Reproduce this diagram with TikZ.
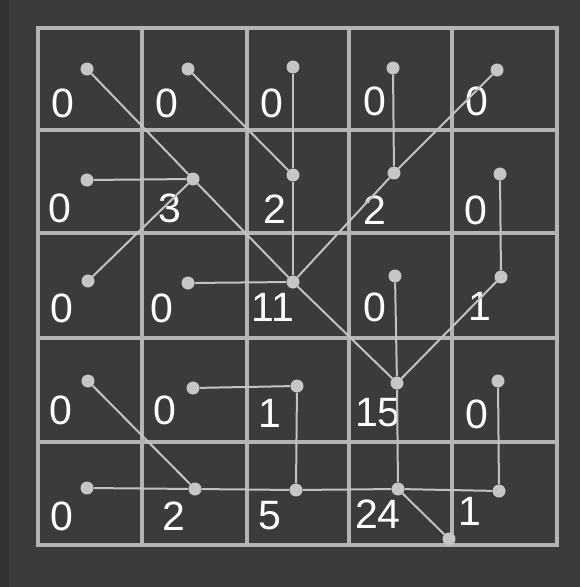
\documentclass[tikz,border=0pt]{standalone}
\usepackage{fontspec}
\setmainfont{Liberation Sans}
\definecolor{bg}{HTML}{3B3B3B}
\definecolor{bgdark}{HTML}{333333}
\definecolor{gridgray}{HTML}{B4B4B4}
\definecolor{flowgray}{HTML}{C2C2C2}
\definecolor{dotgray}{HTML}{C6C6C6}
\tikzset{
  gridline/.style={draw=gridgray, line width=3.5pt},
  celldot/.style={circle, fill=dotgray, inner sep=0pt, minimum size=13pt},
  flow/.style={draw=flowgray, line width=2pt},
  count/.style={font=\fontsize{41}{41}\selectfont, text=white, inner sep=0pt},
}

\begin{document}
\begin{tikzpicture}[x=1pt, y=-1pt]
  \fill[bg] (0,0) rectangle (580,587);
  \fill[bgdark] (0,0) rectangle (9,587);

  % grid
  \foreach \gx in {142,247,349,452}
    \draw[gridline] (\gx,28) -- (\gx,545);
  \foreach \gy in {130,233,338,442}
    \draw[gridline] (38,\gy) -- (557,\gy);
  \draw[gridline] (38,28) rectangle (557,545);

  % accumulated counts
  \foreach \cell/\px/\py/\val in {
      n00/63/103/0, n01/167/103/0, n02/272/103/0, n03/375/101/0, n04/477/101/0,
      n10/60/208/0, n11/170/208/3, n12/275/209/2, n13/375/210/2, n14/476/210/0,
      n20/62/308/0, n21/162/308/0, n22/273/307/11, n23/375/307/0, n24/480/306/1,
      n30/61/410/0, n31/165/410/0, n32/270/413/1, n33/378/413/15, n34/477/414/0,
      n40/62/516/0, n41/174/516/2, n42/270/516/5, n43/378/514/24, n44/470/511/1}
    \node[count] (\cell) at (\px,\py) {\val};

  % cell centres
  \foreach \cell/\px/\py in {
      d00/87/69, d01/188/69, d02/293/67, d03/393/68, d04/497/70,
      d10/87/180, d11/193/179, d12/293/175, d13/394/173, d14/500/174,
      d20/88/281, d21/188/283, d22/293/282, d23/395/276, d24/501/277,
      d30/88/381, d31/193/388, d32/297/386, d33/397/383, d34/498/381,
      d40/87/488, d41/195/489, d42/296/490, d43/398/489, d44/499/491,
      sink/449/539}
    \node[celldot] (\cell) at (\px,\py) {};

  % flow directions
  \foreach \from/\to in {
      d00/d11, d10/d11, d20/d11, d11/d22, d01/d12, d02/d12, d12/d22,
      d03/d13, d04/d13, d13/d22, d21/d22, d22/d33, d14/d24, d24/d33,
      d23/d33, d33/d43, d30/d41, d40/d41, d41/d42, d31/d32, d32/d42,
      d42/d43, d34/d44, d44/d43, d43/sink}
    \draw[flow] (\from) -- (\to);
\end{tikzpicture}
\end{document}
